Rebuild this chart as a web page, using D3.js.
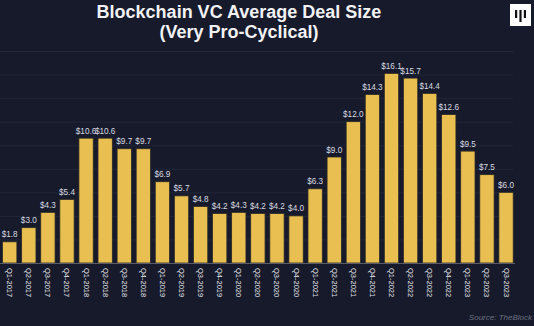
<!DOCTYPE html>
<html>
<head>
<meta charset="utf-8">
<script src="https://cdn.jsdelivr.net/npm/d3@7"></script>
<style>
  html, body { margin: 0; padding: 0; background: #161a2b; }
  svg { display: block; }
</style>
</head>
<body>
<svg id="chart" width="534" height="326"></svg>
<script>
// quarterly average deal size, $M
var quarters = ["Q1-2017", "Q2-2017", "Q3-2017", "Q4-2017",
                "Q1-2018", "Q2-2018", "Q3-2018", "Q4-2018",
                "Q1-2019", "Q2-2019", "Q3-2019", "Q4-2019",
                "Q1-2020", "Q2-2020", "Q3-2020", "Q4-2020",
                "Q1-2021", "Q2-2021", "Q3-2021", "Q4-2021",
                "Q1-2022", "Q2-2022", "Q3-2022", "Q4-2022",
                "Q1-2023", "Q2-2023", "Q3-2023"];
var dealSize = [1.8, 3.0, 4.3, 5.4,
                10.6, 10.6, 9.7, 9.7,
                6.9, 5.7, 4.8, 4.2,
                4.3, 4.2, 4.2, 4.0,
                6.3, 9.0, 12.0, 14.3,
                16.1, 15.7, 14.4, 12.6,
                9.5, 7.5, 6.0];
var gridTicks = [2, 4, 6, 8, 10, 12, 14, 16, 18];

var svg = d3.select("#chart");
var W = 534, H = 326;
var baseY = 263;

svg.append("rect").attr("width", W).attr("height", H).attr("fill", "#161a2b");

var x = d3.scaleBand()
    .domain(quarters)
    .range([0.65, 515.1])
    .paddingInner(0.25)
    .paddingOuter(0.1);

var y = d3.scaleLinear()
    .domain([0, 18])
    .range([baseY, 51]);

// horizontal grid
var grid = svg.append("g")
    .call(d3.axisLeft(y).tickValues(gridTicks).tickSize(-513).tickFormat(""));
grid.select(".domain").remove();
grid.selectAll("line").attr("stroke", "#21263a").attr("stroke-width", 1);

// bars
svg.append("g").selectAll("rect")
    .data(dealSize)
  .enter().append("rect")
    .attr("x", function(d, i) { return x(quarters[i]); })
    .attr("y", function(d) { return y(d); })
    .attr("width", x.bandwidth())
    .attr("height", function(d) { return baseY - y(d); })
    .attr("fill", "#e9bf52")
    .attr("stroke", "#2b2a26")
    .attr("stroke-width", 0.8);

// baseline
svg.append("line")
    .attr("x1", 0).attr("x2", 515)
    .attr("y1", baseY + 0.5).attr("y2", baseY + 0.5)
    .attr("stroke", "#5a5d68").attr("stroke-width", 1);

// value labels
svg.append("g").selectAll("text")
    .data(dealSize)
  .enter().append("text")
    .attr("x", function(d, i) { return x(quarters[i]) + x.bandwidth() / 2; })
    .attr("y", function(d) { return y(d) - 4.5; })
    .attr("text-anchor", "middle")
    .attr("font-family", "Liberation Sans, Arial, sans-serif")
    .attr("font-size", 8.2)
    .attr("fill", "#d9dbe2")
    .text(function(d) { return "$" + d.toFixed(1); });

// category labels, rotated
svg.append("g").selectAll("text")
    .data(quarters)
  .enter().append("text")
    .attr("transform", function(d) {
        return "translate(" + (x(d) + x.bandwidth() / 2 - 2.5) + "," + (baseY + 5) + ") rotate(90)";
    })
    .attr("text-anchor", "start")
    .attr("font-family", "Liberation Sans, Arial, sans-serif")
    .attr("font-size", 7.5)
    .attr("fill", "#e4e5ea")
    .text(function(d) { return d; });

// title
var title = svg.append("text")
    .attr("text-anchor", "middle")
    .attr("font-family", "Liberation Sans, Arial, sans-serif")
    .attr("font-weight", "bold")
    .attr("font-size", 18)
    .attr("fill", "#f2f2f4");
title.append("tspan").attr("x", 239).attr("y", 18).text("Blockchain VC Average Deal Size");
title.append("tspan").attr("x", 239).attr("y", 38).text("(Very Pro-Cyclical)");

// logo
var logo = svg.append("g").attr("transform", "translate(510,4)");
logo.append("rect").attr("width", 21).attr("height", 22).attr("fill", "#ffffff");
logo.append("rect").attr("x", 5).attr("y", 6).attr("width", 2.2).attr("height", 8).attr("fill", "#111");
logo.append("rect").attr("x", 9.4).attr("y", 6).attr("width", 2.2).attr("height", 12).attr("fill", "#111");
logo.append("rect").attr("x", 13.8).attr("y", 6).attr("width", 2.2).attr("height", 8).attr("fill", "#111");

// source
svg.append("text")
    .attr("x", 532)
    .attr("y", 320)
    .attr("text-anchor", "end")
    .attr("font-family", "Liberation Sans, Arial, sans-serif")
    .attr("font-style", "italic")
    .attr("font-size", 8)
    .attr("fill", "#6e7180")
    .text("Source: TheBlock");
</script>
</body>
</html>
